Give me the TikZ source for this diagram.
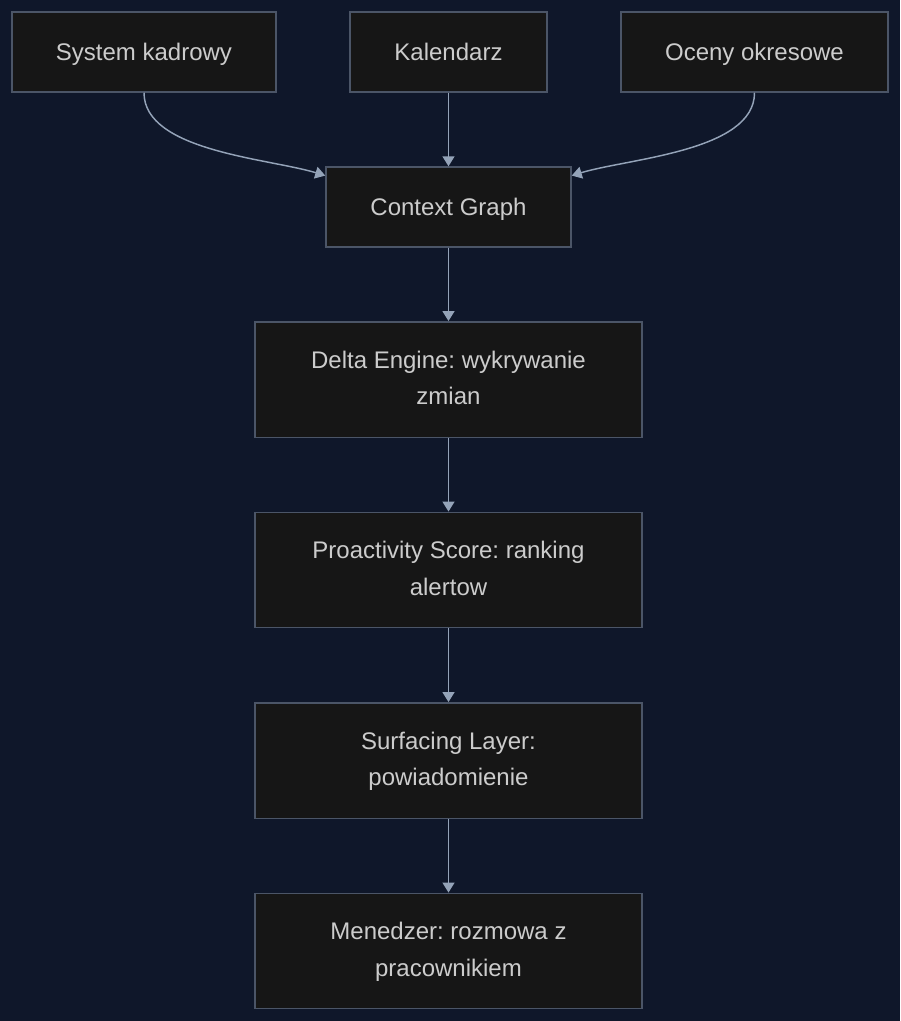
\documentclass[tikz,border=0pt]{standalone}
\usepackage{fontspec}
\setmainfont{Liberation Sans}
\usetikzlibrary{arrows.meta}
\frenchspacing

\definecolor{bgcol}{HTML}{0F172A}
\definecolor{boxfill}{HTML}{161616}
\definecolor{boxline}{HTML}{4B5567}
\definecolor{edgecol}{HTML}{94A3B8}
\definecolor{txtcol}{HTML}{CCCCCC}

\begin{document}
\begin{tikzpicture}[
    x=0.75pt, y=-0.75pt,
    box/.style={draw=boxline, line width=1.1pt, fill=boxfill, text=txtcol,
        font=\fontsize{18}{27.5}\selectfont, align=center, inner sep=0pt},
    smallbox/.style={box, minimum height=60pt,
        text height=16pt, text depth=4pt},
    bigbox/.style={box, minimum width=290.25pt, minimum height=86.6pt,
        text height=40pt, text depth=1.8pt},
    flow/.style={draw=edgecol, line width=1.1pt,
        -{Triangle[length=7.5pt, width=9pt]}}
]

% ---------- Background ----------
\fill[bgcol] (0,0) rectangle (900,1021);
\useasboundingbox (0,0) rectangle (900,1021);

% ---------- Parameters ----------
\def\midx{448.5}

% ---------- Sources ----------
\node[smallbox, minimum width=264*0.75pt] (kadry) at (144,52) {System kadrowy};
\node[smallbox, minimum width=197*0.75pt] (kalendarz) at (\midx,52) {Kalendarz};
\node[smallbox, minimum width=267*0.75pt] (oceny) at (754.5,52) {Oceny okresowe};

% ---------- Pipeline ----------
\node[smallbox, minimum width=245*0.75pt] (graph) at (\midx,207) {Context Graph};
\node[bigbox] (delta) at (\midx,379.5) {Delta Engine: wykrywanie\\zmian};
\node[bigbox] (score) at (\midx,570) {Proactivity Score: ranking\\alertow};
\node[bigbox] (surface) at (\midx,760.5) {Surfacing Layer:\\powiadomienie};
\node[bigbox] (manager) at (\midx,951) {Menedzer: rozmowa z\\pracownikiem};

% ---------- Edges ----------
\draw[flow] (kadry.south) to[out=-90, in=163, looseness=0.75]
    ([yshift=-7pt]graph.north west);
\draw[flow] (oceny.south) to[out=-90, in=17, looseness=0.75]
    ([yshift=-7pt]graph.north east);
\draw[flow] (kalendarz) -- (graph);
\draw[flow] (graph) -- (delta);
\draw[flow] (delta) -- (score);
\draw[flow] (score) -- (surface);
\draw[flow] (surface) -- (manager);

\end{tikzpicture}
\end{document}
